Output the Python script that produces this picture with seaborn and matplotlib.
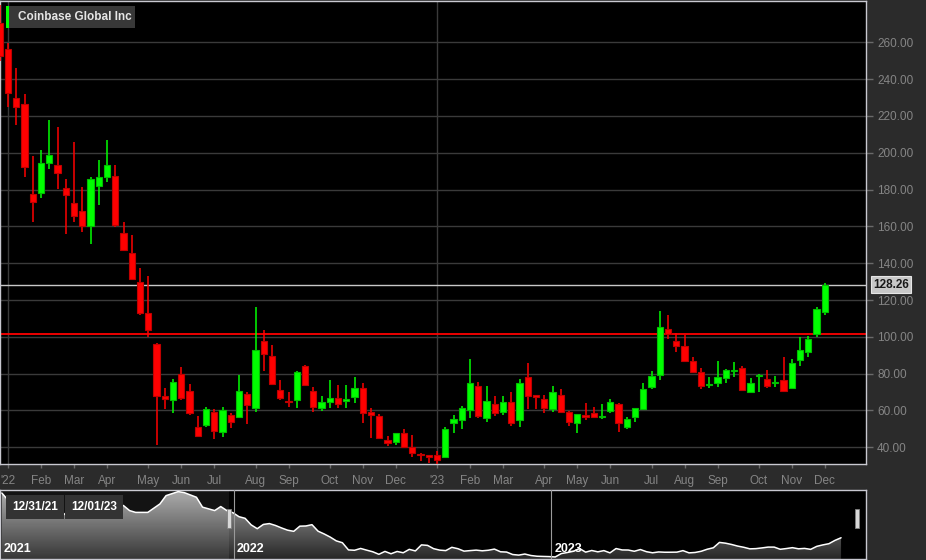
import matplotlib
matplotlib.use("Agg")
import matplotlib.pyplot as plt
import numpy as np
import pandas as pd
import seaborn as sns
from matplotlib.colors import LinearSegmentedColormap
from matplotlib.patches import Rectangle
from matplotlib.ticker import FuncFormatter

# weekly candles (Friday dated), 12/31/21 .. 12/01/23
first_week = "2021-12-31"
opens = [270.2, 256.2, 229.9, 226.6, 177.6, 178.0, 194.6, 193.4, 180.7, 172.5,
         168.2, 160.1, 181.9, 187.0, 187.4, 156.6, 145.4, 129.8, 112.8, 96.0,
         68.0, 65.7, 79.8, 70.6, 51.1, 52.3, 59.4, 48.2, 57.6, 56.6,
         69.0, 61.2, 97.8, 89.6, 71.2, 65.2, 65.7, 84.2, 70.6, 61.5,
         64.8, 66.8, 65.3, 67.5, 72.4, 59.2, 57.0, 44.1, 42.7, 47.9,
         40.0, 36.5, 35.3, 35.8, 34.9, 53.4, 54.8, 60.3, 73.5, 56.1,
         63.5, 59.4, 64.6, 54.8, 78.2, 68.4, 66.1, 60.7, 68.3, 59.4,
         53.2, 57.6, 58.7, 56.3, 59.6, 63.5, 51.2, 56.3, 60.8, 72.8,
         79.3, 104.1, 97.9, 95.2, 86.9, 80.9, 73.7, 74.8, 77.8, 81.4,
         83.2, 69.9, 78.7, 76.9, 74.8, 76.6, 72.1, 87.5, 92.0, 101.5,
         113.7]
highs = [280.0, 259.5, 246.2, 231.9, 198.2, 201.5, 217.8, 213.7, 185.6, 205.7,
         181.2, 187.0, 196.1, 206.9, 193.2, 162.2, 155.2, 137.2, 133.1, 96.8,
         72.1, 77.1, 83.5, 74.2, 57.0, 62.0, 60.7, 62.0, 58.8, 79.3,
         69.9, 116.0, 103.7, 95.4, 76.6, 70.2, 81.6, 84.7, 72.6, 67.9,
         76.6, 73.7, 73.7, 78.1, 74.8, 61.2, 57.9, 46.1, 48.0, 49.8,
         46.5, 36.8, 35.6, 38.2, 50.9, 57.6, 62.4, 87.8, 75.6, 73.3,
         67.9, 67.9, 69.9, 76.9, 85.6, 68.6, 68.3, 73.3, 71.5, 59.6,
         58.2, 64.0, 61.7, 63.6, 66.1, 64.2, 56.3, 61.5, 74.8, 81.3,
         114.2, 111.7, 102.3, 101.0, 89.2, 83.2, 78.4, 86.9, 82.3, 86.2,
         84.2, 77.5, 79.7, 82.0, 78.7, 89.2, 88.1, 99.8, 100.5, 116.4,
         129.1]
lows = [250.0, 224.7, 214.9, 186.8, 162.4, 175.3, 191.0, 180.5, 155.9, 162.2,
        156.8, 150.3, 171.5, 184.3, 159.8, 146.6, 131.3, 112.0, 100.1, 41.1,
        60.7, 58.8, 65.7, 57.5, 45.8, 51.2, 44.4, 45.8, 50.3, 55.8,
        52.7, 59.3, 81.6, 73.7, 65.7, 62.0, 61.5, 73.7, 59.3, 59.9,
        61.5, 61.2, 61.2, 63.9, 53.0, 44.9, 44.4, 40.7, 41.2, 39.8,
        34.6, 32.7, 31.6, 30.8, 34.6, 47.9, 49.8, 55.8, 55.8, 53.9,
        57.0, 57.6, 51.7, 50.9, 60.7, 60.7, 58.5, 59.4, 58.5, 51.7,
        47.6, 54.9, 55.8, 55.6, 58.5, 48.5, 50.1, 53.8, 60.3, 71.5,
        76.6, 98.7, 91.8, 86.5, 80.5, 71.5, 72.0, 73.0, 75.1, 78.0,
        70.8, 69.4, 70.2, 72.1, 72.6, 70.2, 71.8, 84.2, 88.9, 100.1,
        111.9]
closes = [252.4, 232.6, 224.7, 192.1, 173.3, 194.3, 198.6, 189.2, 176.9, 165.8,
          160.2, 185.7, 186.7, 193.2, 160.9, 147.2, 131.6, 112.8, 103.7, 68.0,
          66.2, 75.3, 66.8, 58.8, 46.3, 60.6, 49.0, 60.3, 53.9, 70.8,
          63.0, 93.0, 90.5, 74.2, 67.0, 64.6, 80.9, 74.0, 61.9, 64.6,
          67.0, 63.7, 66.4, 72.1, 58.8, 57.4, 45.2, 42.3, 47.6, 40.3,
          36.7, 35.7, 34.9, 33.1, 50.0, 55.2, 61.5, 74.8, 57.0, 65.2,
          58.5, 64.6, 53.4, 74.9, 67.9, 67.5, 61.3, 69.9, 59.2, 53.8,
          58.0, 56.5, 56.6, 57.0, 64.6, 53.4, 55.4, 61.3, 71.5, 78.7,
          105.2, 101.4, 95.0, 87.0, 81.1, 73.3, 74.4, 78.0, 82.0, 82.0,
          71.1, 74.8, 79.2, 73.5, 75.5, 70.8, 85.6, 92.9, 98.8, 115.3,
          128.26]

last_price = 128.26
ref_line = 101.5
y_ticks = [40, 60, 80, 100, 120, 140, 160, 180, 200, 220, 240, 260]

# navigator history before the window, in weeks relative to 12/31/21
hist_weeks = [-38, -37, -35, -33, -32, -31, -29, -28, -27, -25, -24, -22, -20,
              -18, -17, -16, -14, -12, -11, -9, -8, -6, -5, -3, -2, -1]
hist_close = [350, 316, 308, 243, 254, 243, 246, 238, 263, 246, 246, 272, 288,
              288, 263, 254, 254, 296, 337, 357, 352, 329, 280, 263, 283, 263]
year_labels = ["2021", "2022", "2023"]
range_labels = ["12/31/21", "12/01/23"]

BG = "#2b2b2b"
GRID = "#3a3a3a"
TXT = "#858585"
BORDER = "#c8c8d0"

sns.set_theme(style="dark", rc={"figure.facecolor": BG, "axes.facecolor": "black"})
plt.rcParams["font.family"] = ["Liberation Sans", "DejaVu Sans"]

W, H = 926, 560
fig = plt.figure(figsize=(W / 100, H / 100), dpi=100)
fig.patch.set_facecolor(BG)

# ---- main candle chart
ax = fig.add_axes([0, 96 / H, 866 / W, (559 - 96) / H])
ax.set_facecolor("black")

dates = pd.date_range(first_week, periods=len(closes), freq="7D")
x = np.arange(len(closes))
o = np.array(opens)
c = np.array(closes)
up = c >= o
colors = np.where(up, "#00ff00", "#ff0000")
edges = np.where(up, "#00c000", "#c00000")

for yv in y_ticks:
    ax.axhline(yv, color=GRID, lw=1, zorder=1)

# month labels at the first candle of each month
tick_pos, tick_lab = [], []
for i in range(1, len(dates)):
    if dates[i].month != dates[i - 1].month:
        tick_pos.append(i)
        tick_lab.append("'" + dates[i].strftime("%y") if dates[i].month == 1 else dates[i].strftime("%b"))
for i, lab in zip(tick_pos, tick_lab):
    if lab.startswith("'"):
        ax.axvline(i, color=GRID, lw=1, zorder=1)

ax.axhline(last_price, color="#c8c8c8", lw=1, zorder=2)
ax.axhline(ref_line, color="#ff0000", lw=1.3, zorder=2)

ax.vlines(x, lows, highs, colors=colors, lw=1.1, zorder=3)
body_low = np.minimum(o, c)
body_h = np.maximum(np.abs(c - o), 0.8)
ax.bar(x, body_h, bottom=body_low, width=0.78, color=colors, edgecolor=edges,
       linewidth=0.8, zorder=4)

ax.set_xlim(0.03, 105.0)
ax.set_ylim(30.94, 282.4)
ax.yaxis.tick_right()
ax.set_yticks(y_ticks)
ax.yaxis.set_major_formatter(FuncFormatter(lambda v, p: f"{v:.2f}"))
ax.set_xticks(tick_pos)
ax.set_xticklabels(tick_lab)
ax.tick_params(axis="y", colors="#6a6a6a", labelcolor=TXT, labelsize=8.5,
               length=5, width=1, pad=3, right=True, left=False)
ax.tick_params(axis="x", colors="#6a6a6a", labelcolor=TXT, labelsize=8.5,
               length=3, width=1, pad=5, bottom=True)
ax.grid(False)
for s in ax.spines.values():
    s.set_color(BORDER)
    s.set_linewidth(1)

ax.annotate(f"{last_price:.2f}", xy=(1, last_price), xycoords=("axes fraction", "data"),
            xytext=(7, 0), textcoords="offset pixels", ha="left", va="center",
            fontsize=8.5, fontweight="bold", color="#1a1a1a",
            bbox=dict(boxstyle="square,pad=0.2", fc="#c8c8c8", ec="#e6e6e6", lw=0.8))

# title box
fig.add_artist(Rectangle((6 / W, 1 - 28 / H), 129 / W, 22 / H, transform=fig.transFigure,
                         facecolor="#383838", edgecolor="none", zorder=5))
fig.add_artist(Rectangle((6 / W, 1 - 28 / H), 3 / W, 22 / H, transform=fig.transFigure,
                         facecolor="#00ff00", edgecolor="none", zorder=6))
fig.text(18 / W, 1 - 17 / H, "Coinbase Global Inc", color="#e6e6e6", fontsize=8.5,
         fontweight="bold", va="center", ha="left", zorder=7)

# ---- navigator
nav = fig.add_axes([0, 1 / H, 866 / W, 69 / H])
nav.set_facecolor("black")
nav_x = hist_weeks + list(range(len(closes)))
nav_y = hist_close + closes
x0, x1 = -38.3, 104.1
y0, y1 = 23, 365
poly = nav.fill_between(nav_x, nav_y, y0, color="none", lw=0)
grad = np.linspace(1, 0, 256).reshape(-1, 1)
cmap = LinearSegmentedColormap.from_list("g", ["#262626", "#a8a8a8"])
im = nav.imshow(grad, cmap=cmap, extent=(x0, x1, y0, y1), aspect="auto",
                origin="upper", vmin=0, vmax=1, zorder=2)
im.set_clip_path(poly.get_paths()[0], transform=nav.transData)
sns.lineplot(x=nav_x, y=nav_y, ax=nav, color="white", lw=1.1, zorder=3)
nav.axvspan(x0, -0.66, color="#ffffff", alpha=0.08, lw=0, zorder=4)
for xv in (0.14, 52.3):
    nav.axvline(xv, color="#9a9a9a", lw=0.8, zorder=4)
for xv in (-0.66, 102.6):
    nav.add_patch(Rectangle((xv - 0.35, y0 + 0.45 * (y1 - y0)), 0.7, 0.28 * (y1 - y0),
                            facecolor="#d8d8d8", edgecolor="#808080", lw=0.6, zorder=6))
nav.set_xlim(x0, x1)
nav.set_ylim(y0, y1)
nav.set_xticks([])
nav.set_yticks([])
nav.set_xlabel("")
nav.set_ylabel("")
for s in nav.spines.values():
    s.set_color(BORDER)
    s.set_linewidth(1)
for lab, px in zip(year_labels, [4, 237, 555]):
    nav.text(px / 866, 0.06, lab, transform=nav.transAxes, color="white",
             fontsize=9, fontweight="bold", ha="left", va="bottom", zorder=7)
for lab, px in zip(range_labels, [12, 71]):
    fig.text(px / W, 1 - 507 / H, lab, color="white", fontsize=8.5, fontweight="bold",
             ha="left", va="center", zorder=8,
             bbox=dict(boxstyle="square,pad=0.5", fc="#333333", ec="none"))

fig.savefig("out.png", dpi=100, facecolor=BG)
